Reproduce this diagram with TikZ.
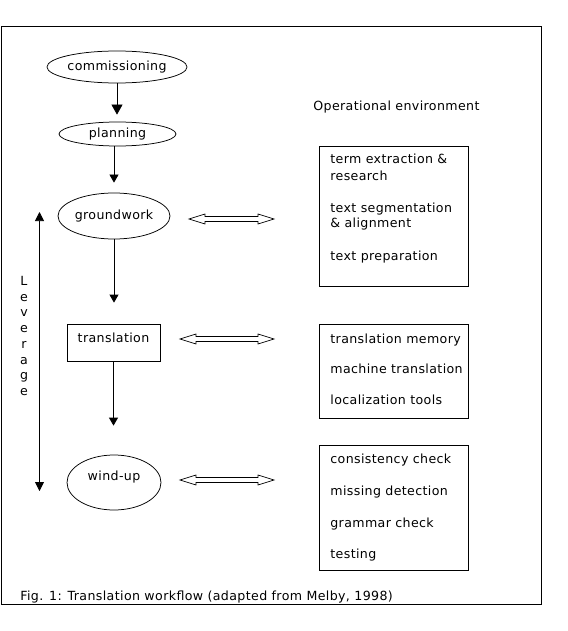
\documentclass[tikz,border=0pt]{standalone}
\usepackage{fontspec}
\setmainfont{DejaVu Sans}[LetterSpace=3]
\usetikzlibrary{shapes.geometric,arrows.meta,calc}
\tikzset{
  lbl/.style={font=\fontsize{12.6}{15.7}\selectfont, inner sep=0pt},
  ell/.style={draw, ellipse, lbl},
  flow/.style={draw, line width=0.75pt, -{Triangle[width=9pt,length=8pt]}},
  hollow/.style={draw, fill=white, line width=0.7pt},
  txt/.style={lbl, anchor=base west},
  boxx/.style={draw, line width=0.75pt, inner sep=0pt, minimum width=149pt},
}
\newcommand{\hollowarrow}[2]{%
  \draw[hollow] let \p1=(#1), \p2=(#2) in
  (\x1,\y1) -- (\x1+16pt,\y1+5pt) -- (\x1+16pt,\y1+2.5pt) -- (\x2-16pt,\y2+2.5pt)
  -- (\x2-16pt,\y2+5pt) -- (\x2,\y2) -- (\x2-16pt,\y2-5pt) -- (\x2-16pt,\y2-2.5pt)
  -- (\x1+16pt,\y1-2.5pt) -- (\x1+16pt,\y1-5pt) -- cycle;}
\begin{document}
\begin{tikzpicture}[x=1pt,y=-1pt, line width=0.75pt]
\useasboundingbox (0,0) rectangle (567,631);
% frame
\draw (1,26) rectangle (541,604);

% flow nodes
\node[ell, minimum width=140pt, minimum height=32pt] (comm) at (117,67) {commissioning};
\node[ell, minimum width=117pt, minimum height=24pt] (plan) at (117.5,134) {planning};
\node[ell, minimum width=112pt, minimum height=46pt] (gw) at (114,216) {groundwork};
\node[draw, lbl, minimum width=93pt, minimum height=37pt, text height=9pt, text depth=9pt] (tr) at (113.5,342.5) {translation};
\node[ell, minimum width=94pt, minimum height=55pt, text height=8pt, text depth=13pt] (wu) at (114,482.5) {wind-up};

% flow arrows
\draw[flow, -{Triangle[width=11pt,length=10pt]}, shorten >=7pt] (comm.south) -- (comm.south |- plan.north);
\draw[flow, shorten >=10pt] (plan.south -| gw.north) -- (gw.north);
\draw[flow, shorten >=21pt] (gw.south) -- (gw.south |- tr.north);
\draw[flow, shorten >=29pt] (tr.south) -- (tr.south |- wu.north);

% leverage
\coordinate (levtop) at (39.5,212);
\coordinate (levbot) at (39.5,491);
\draw[{Triangle[width=9pt,length=9pt]}-{Triangle[width=9pt,length=9pt]}] (levtop) -- (levbot);
\node[lbl, align=center, anchor=north] (lev) at (24,276) {L\\e\\v\\e\\r\\a\\g\\e};

% hollow double arrows
\coordinate (ga1) at (189,219); \coordinate (ga2) at (274,219);
\coordinate (ta1) at (180,339); \coordinate (ta2) at (274,339);
\coordinate (wa1) at (180,480); \coordinate (wa2) at (274,480);
\hollowarrow{ga1}{ga2}
\hollowarrow{ta1}{ta2}
\hollowarrow{wa1}{wa2}

% operational environment
\node[txt] (openv) at (313,111) {Operational environment};

\node[boxx, minimum height=140pt] (box1) at (393.5,216) {};
\node[txt] (b1a) at (330,164) {term extraction \&};
\node[txt] (b1b) at (330,180) {research};
\node[txt] (b1c) at (330,212) {text segmentation};
\node[txt] (b1d) at (330,227) {\& alignment};
\node[txt] (b1e) at (330,260) {text preparation};

\node[boxx, minimum height=94pt] (box2) at (393.5,371) {};
\node[txt] (b2a) at (330,343) {translation memory};
\node[txt] (b2b) at (330,373) {machine translation};
\node[txt] (b2c) at (330,404) {localization tools};

\node[boxx, minimum height=125pt] (box3) at (393.5,507.5) {};
\node[txt] (b3a) at (330,463) {consistency check};
\node[txt] (b3b) at (330,495) {missing detection};
\node[txt] (b3c) at (330,527) {grammar check};
\node[txt] (b3d) at (330,558) {testing};

% caption
\node[txt] (cap) at (20,600) {Fig. 1: Translation workflow (adapted from Melby, 1998)};
\end{tikzpicture}
\end{document}
